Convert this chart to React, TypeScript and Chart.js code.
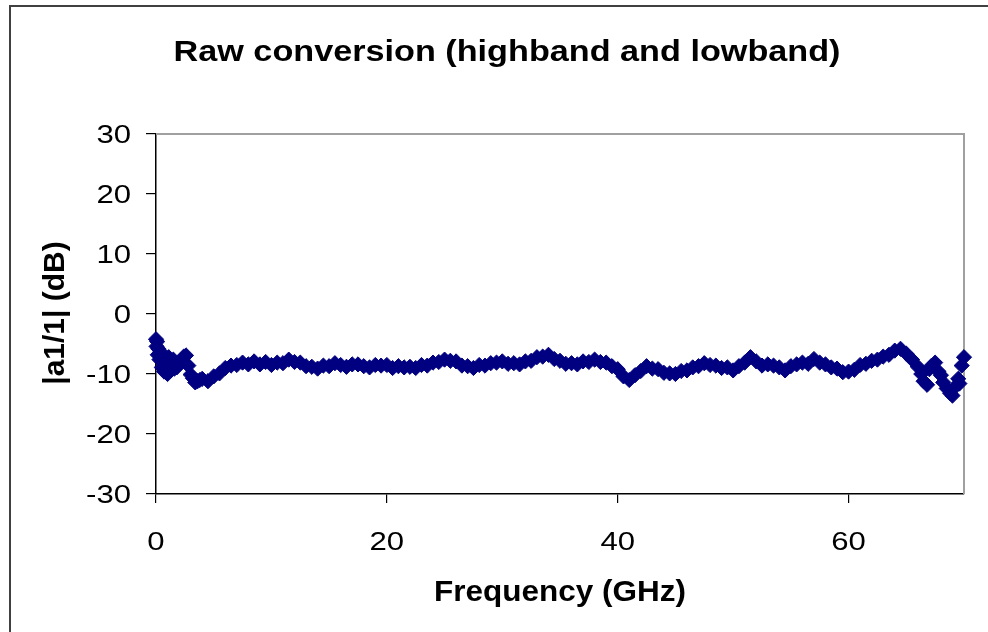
import { useEffect, useRef } from "react";
import { Chart, registerables } from "chart.js";

Chart.register(...registerables);

const TITLE = "Raw conversion (highband and lowband)";
const X_TITLE = "Frequency (GHz)";
const Y_TITLE = "|a1/1| (dB)";
const X_TICKS = [0, 20, 40, 60];
const Y_TICKS = [-30, -20, -10, 0, 10, 20, 30];
const X_MIN = 0;
const X_MAX = 70;
const Y_MIN = -30;
const Y_MAX = 30;

// lowband scatter near 0-4 GHz
const LOW_FREQ = [0.0, 0.05, 0.1, 0.15, 0.2, 0.3, 0.4, 0.5, 0.6, 0.7, 0.8, 0.9, 1.0, 1.1, 1.2, 1.3, 1.4, 1.5, 1.6, 1.7, 1.8, 2.0, 2.2, 2.4, 2.6, 2.8, 3.0, 3.2, 3.4, 3.6, 3.8];
const LOW_DB = [-4.2, -5.4, -4.6, -6.8, -5.8, -7.6, -6.3, -8.9, -6.9, -9.6, -7.4, -8.3, -10.0, -7.2, -8.8, -9.4, -8.1, -7.6, -9.1, -8.4, -8.9, -8.2, -7.8, -7.1, -6.9, -8.6, -10.1, -10.7, -11.4, -11.2, -11.0];

// highband trace
const HIGH_FREQ = [
  4.0, 4.5, 5.0, 5.5, 6.0, 6.5, 7.0, 7.5, 8.0, 8.5,
  9.0, 9.5, 10.0, 10.5, 11.0, 11.5, 12.0, 12.5, 13.0, 13.5,
  14.0, 14.5, 15.0, 15.5, 16.0, 16.5, 17.0, 17.5, 18.0, 18.5,
  19.0, 19.5, 20.0, 20.5, 21.0, 21.5, 22.0, 22.5, 23.0, 23.5,
  24.0, 24.5, 25.0, 25.5, 26.0, 26.5, 27.0, 27.5, 28.0, 28.5,
  29.0, 29.5, 30.0, 30.5, 31.0, 31.5, 32.0, 32.5, 33.0, 33.5,
  34.0, 34.5, 35.0, 35.5, 36.0, 36.5, 37.0, 37.5, 38.0, 38.5,
  39.0, 39.5, 40.0, 40.5, 41.0, 41.5, 42.0, 42.5, 43.0, 43.5,
  44.0, 44.5, 45.0, 45.5, 46.0, 46.5, 47.0, 47.5, 48.0, 48.5,
  49.0, 49.5, 50.0, 50.5, 51.0, 51.5, 52.0, 52.5, 53.0, 53.5,
  54.0, 54.5, 55.0, 55.5, 56.0, 56.5, 57.0, 57.5, 58.0, 58.5,
  59.0, 59.5, 60.0, 60.5, 61.0, 61.5, 62.0, 62.5, 63.0, 63.5,
  64.0, 64.5, 65.0, 65.5, 66.0, 66.5, 67.0, 67.5, 68.0, 68.5,
  69.0, 69.5, 70.0,
];
const HIGH_DB = [
  -10.8, -11.2, -10.4, -9.9, -9.0, -8.6, -8.5, -8.1, -8.4, -7.9,
  -8.4, -8.0, -8.5, -8.1, -8.2, -7.6, -8.0, -8.1, -8.7, -8.8,
  -9.1, -8.6, -8.7, -8.2, -8.5, -8.8, -8.4, -8.4, -8.7, -8.9,
  -8.5, -8.6, -8.5, -9.0, -8.7, -8.9, -8.8, -9.0, -8.5, -8.6,
  -8.1, -8.0, -7.6, -7.8, -7.9, -8.6, -8.7, -9.0, -8.5, -8.6,
  -8.2, -8.1, -7.9, -8.3, -8.2, -8.4, -7.9, -7.8, -7.2, -7.1,
  -6.8, -7.5, -7.8, -8.3, -8.2, -8.4, -7.9, -8.0, -7.6, -8.0,
  -8.1, -8.7, -9.2, -10.4, -11.0, -10.2, -9.5, -8.7, -9.1, -9.2,
  -9.8, -9.9, -10.0, -9.5, -9.4, -8.9, -8.7, -8.2, -8.5, -8.6,
  -9.0, -8.9, -9.4, -8.7, -8.1, -7.2, -7.9, -8.6, -8.4, -8.6,
  -8.9, -9.4, -8.7, -8.4, -8.1, -8.3, -7.5, -8.1, -8.4, -8.9,
  -9.1, -9.7, -9.6, -9.3, -8.5, -8.3, -7.8, -7.6, -7.1, -6.8,
  -6.1, -5.8, -6.6, -7.6, -8.8, -11.2, -9.2, -8.1, -10.2, -12.4,
  -13.6, -10.8, -7.2,
];

// extra scattered points at the top end
const END_FREQ = [66.3, 66.8, 67.2, 67.8, 68.2, 68.8, 69.2, 69.6, 69.8];
const END_DB = [-10.0, -11.8, -8.6, -9.6, -11.4, -13.2, -12.2, -11.6, -8.6];

const MARKER = "#000080";
const FONT = '"Liberation Sans", Arial, sans-serif';

const toPoints = (xs: number[], ys: number[]) => xs.map((x, i) => ({ x, y: ys[i] }));

const framePlugin = {
  id: "plotFrame",
  beforeDatasetsDraw(chart: any) {
    const { ctx, chartArea } = chart;
    ctx.save();
    ctx.strokeStyle = "#a0a0a0";
    ctx.lineWidth = 2;
    ctx.beginPath();
    ctx.moveTo(chartArea.left, chartArea.top);
    ctx.lineTo(chartArea.right, chartArea.top);
    ctx.lineTo(chartArea.right, chartArea.bottom);
    ctx.stroke();
    ctx.restore();
  },
};

const textPlugin = {
  id: "excelText",
  afterDraw(chart: any) {
    const { ctx, chartArea, scales } = chart;
    const draw = (
      text: string,
      x: number,
      y: number,
      font: string,
      align: CanvasTextAlign,
      sx: number,
      rot = 0,
      baseline: CanvasTextBaseline = "alphabetic"
    ) => {
      ctx.save();
      ctx.translate(x, y);
      if (rot) ctx.rotate(rot);
      ctx.scale(sx, 1);
      ctx.font = font;
      ctx.textAlign = align;
      ctx.textBaseline = baseline;
      ctx.fillStyle = "#000";
      ctx.fillText(text, 0, 0);
      ctx.restore();
    };
    draw(TITLE, 507, 61, `bold 30px ${FONT}`, "center", 1.14);
    Y_TICKS.forEach((v) =>
      draw(String(v), 131, scales.y.getPixelForValue(v) + 9, `25.5px ${FONT}`, "right", 1.22)
    );
    X_TICKS.forEach((v) =>
      draw(String(v), scales.x.getPixelForValue(v), 550, `25.5px ${FONT}`, "center", 1.22)
    );
    draw(X_TITLE, (chartArea.left + chartArea.right) / 2, 601, `bold 30px ${FONT}`, "center", 1.05);
    draw(Y_TITLE, 56, 313, `bold 30px ${FONT}`, "center", 1, -Math.PI / 2, "middle");
  },
};

export default function App() {
  const ref = useRef<HTMLCanvasElement | null>(null);

  useEffect(() => {
    if (!ref.current) return;
    const ds = (data: any[]) => ({
      data,
      pointStyle: "rectRot",
      pointRadius: 7.6,
      pointBackgroundColor: MARKER,
      pointBorderColor: MARKER,
      pointBorderWidth: 1,
      showLine: false,
      clip: false as any,
    });
    const chart = new Chart(ref.current, {
      type: "scatter",
      data: {
        datasets: [
          ds(toPoints(LOW_FREQ, LOW_DB)),
          ds(toPoints(HIGH_FREQ, HIGH_DB)),
          ds(toPoints(END_FREQ, END_DB)),
        ],
      },
      options: {
        animation: false,
        responsive: false,
        layout: { padding: { left: 0, top: 134, right: 24, bottom: 0 } },
        plugins: {
          legend: { display: false },
          title: { display: false },
          tooltip: { enabled: false },
        },
        scales: {
          x: {
            type: "linear",
            min: X_MIN,
            max: X_MAX,
            afterBuildTicks: (s: any) => {
              s.ticks = X_TICKS.map((value) => ({ value }));
            },
            afterFit: (s: any) => {
              s.height = 138;
            },
            ticks: { display: false },
            grid: {
              drawOnChartArea: false,
              drawTicks: true,
              tickLength: 9,
              color: "#000",
              lineWidth: 1.2,
            },
            border: { display: true, color: "#000", width: 1.5 },
          },
          y: {
            type: "linear",
            min: Y_MIN,
            max: Y_MAX,
            afterBuildTicks: (s: any) => {
              s.ticks = Y_TICKS.map((value) => ({ value }));
            },
            afterFit: (s: any) => {
              s.width = 156;
            },
            ticks: { display: false },
            grid: {
              drawOnChartArea: false,
              drawTicks: true,
              tickLength: 10,
              color: "#000",
              lineWidth: 1.2,
            },
            border: { display: true, color: "#000", width: 1.5 },
          },
        },
      },
      plugins: [framePlugin, textPlugin],
    });
    return () => chart.destroy();
  }, []);

  return (
    <div
      style={{
        position: "fixed",
        left: 0,
        top: 0,
        width: 988,
        height: 632,
        overflow: "hidden",
        background: "#fff",
      }}
    >
      <div
        style={{
          position: "absolute",
          left: 9,
          top: 5,
          width: 1000,
          height: 700,
          border: "2px solid #404040",
        }}
      />
      <canvas ref={ref} width={988} height={632} style={{ position: "absolute", left: 0, top: 0 }} />
    </div>
  );
}
